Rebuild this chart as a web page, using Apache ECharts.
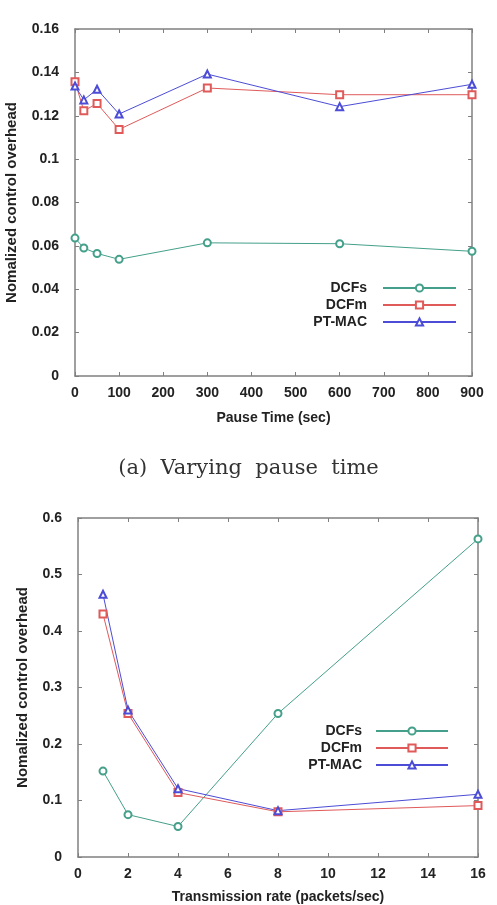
<!DOCTYPE html>
<html>
<head>
<meta charset="utf-8">
<script src="https://cdn.jsdelivr.net/npm/echarts@6/dist/echarts.min.js"></script>
<style>
  html, body { margin: 0; padding: 0; background: #fff; }
  #chart { width: 497px; height: 905px; }
</style>
</head>
<body>
<div id="chart"></div>
<script>
// (a) pause time
const pauseTimes = [0, 20, 50, 100, 300, 600, 900];
const pauseDCFs = [0.0636, 0.0590, 0.0565, 0.0538, 0.0614, 0.0610, 0.0575];
const pauseDCFm = [0.1357, 0.1223, 0.1256, 0.1137, 0.1328, 0.1297, 0.1297];
const pausePTMAC = [0.1337, 0.1273, 0.1322, 0.1208, 0.1392, 0.1242, 0.1345];

// (b) transmission rate
const rates = [1, 2, 4, 8, 16];
const rateDCFs = [0.152, 0.075, 0.054, 0.254, 0.563];
const rateDCFm = [0.430, 0.254, 0.114, 0.080, 0.091];
const ratePTMAC = [0.465, 0.260, 0.121, 0.082, 0.111];

const seriesNames = ['DCFs', 'DCFm', 'PT-MAC'];
const seriesColors = ['#44a08a', '#e05a5a', '#4c4cd6'];
const seriesSymbols = ['emptyCircle', 'emptyRect', 'emptyTriangle'];

const labelFont = { fontFamily: 'Liberation Sans, Arial, sans-serif', fontWeight: 'bold', fontSize: 14, color: '#222' };
const nameFont = Object.assign({}, labelFont, { fontSize: 15 });
const axisColor = '#808080';

function pairs(xs, ys) { return xs.map((x, i) => [x, ys[i]]); }

function mainX(grid, min, max, interval, name, nameGap) {
  return {
    type: 'value', gridIndex: grid, min, max, interval, position: 'bottom',
    name, nameLocation: 'middle', nameGap, nameTextStyle: labelFont,
    axisLine: { show: true, lineStyle: { color: axisColor, width: 1.5 } },
    axisTick: { show: true, inside: true, length: 4, lineStyle: { color: axisColor } },
    axisLabel: Object.assign({ margin: 10 }, labelFont),
    splitLine: { show: false }
  };
}
function mainY(grid, min, max, interval, name, nameGap, fmt) {
  return {
    type: 'value', gridIndex: grid, min, max, interval, position: 'left',
    name, nameLocation: 'middle', nameGap, nameTextStyle: nameFont,
    axisLine: { show: true, lineStyle: { color: axisColor, width: 1.5 } },
    axisTick: { show: true, inside: true, length: 4, lineStyle: { color: axisColor } },
    axisLabel: Object.assign({ margin: 16, formatter: fmt }, labelFont),
    splitLine: { show: false }
  };
}
function boxAxis(grid, min, max, interval, position) {
  return {
    type: 'value', gridIndex: grid, min, max, interval, position,
    axisLine: { show: true, onZero: false, lineStyle: { color: axisColor, width: 1.5 } },
    axisTick: { show: true, inside: true, length: 4, lineStyle: { color: axisColor } },
    axisLabel: { show: false }, splitLine: { show: false }
  };
}

function lineSeries(i, grid, xs, ys) {
  return {
    name: seriesNames[i], type: 'line', xAxisIndex: grid * 2, yAxisIndex: grid * 2,
    data: pairs(xs, ys), symbol: seriesSymbols[i], symbolSize: 7,
    lineStyle: { color: seriesColors[i], width: 1 },
    itemStyle: { color: seriesColors[i], borderWidth: 1 },
    animation: false
  };
}

function legendFor(name, right, top, width, pad) {
  return {
    data: [name], right, top, padding: 0, align: 'right',
    itemWidth: width, itemHeight: 9, selectedMode: false,
    textStyle: Object.assign({ padding: [0, pad, 0, 0] }, labelFont)
  };
}

const chart = echarts.init(document.getElementById('chart'), null, { renderer: 'canvas' });
chart.setOption({
  backgroundColor: '#fff',
  animation: false,
  title: {
    text: '(a)  Varying  pause  time', left: 'center', top: 453,
    textStyle: { fontFamily: 'DejaVu Serif, Liberation Serif, serif', fontWeight: 'normal', fontSize: 21, color: '#333' }
  },
  grid: [
    { left: 75, top: 29, width: 397, height: 347, outerBoundsMode: 'none' },
    { left: 78, top: 518, width: 400, height: 339, outerBoundsMode: 'none' }
  ],
  xAxis: [
    mainX(0, 0, 900, 100, 'Pause Time (sec)', 35),
    boxAxis(0, 0, 900, 100, 'top'),
    mainX(1, 0, 16, 2, 'Transmission rate (packets/sec)', 33),
    boxAxis(1, 0, 16, 2, 'top')
  ],
  yAxis: [
    mainY(0, 0, 0.16, 0.02, 'Nomalized control overhead', 56, v => v === 0 ? '0' : String(+v.toFixed(2))),
    boxAxis(0, 0, 0.16, 0.02, 'right'),
    mainY(1, 0, 0.6, 0.1, 'Nomalized control overhead', 48, v => v === 0 ? '0' : String(+v.toFixed(1))),
    boxAxis(1, 0, 0.6, 0.1, 'right')
  ],
  legend: [
    legendFor('DCFs', 40, 281, 73, 11),
    legendFor('DCFm', 40, 298, 73, 11),
    legendFor('PT-MAC', 40, 315, 73, 11),
    legendFor('DCFs', 48, 724, 72, 9),
    legendFor('DCFm', 48, 741, 72, 9),
    legendFor('PT-MAC', 48, 758, 72, 9)
  ],
  series: [
    lineSeries(0, 0, pauseTimes, pauseDCFs),
    lineSeries(1, 0, pauseTimes, pauseDCFm),
    lineSeries(2, 0, pauseTimes, pausePTMAC),
    lineSeries(0, 1, rates, rateDCFs),
    lineSeries(1, 1, rates, rateDCFm),
    lineSeries(2, 1, rates, ratePTMAC)
  ]
});
</script>
</body>
</html>
